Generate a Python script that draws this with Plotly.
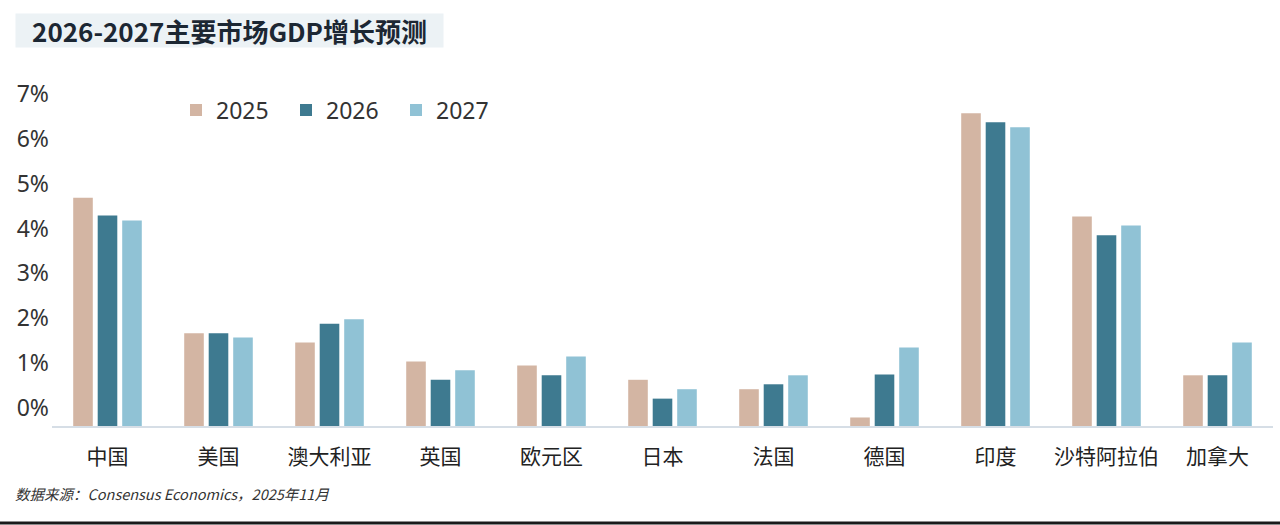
import plotly.graph_objects as go

categories = ["中国", "美国", "澳大利亚", "英国", "欧元区", "日本", "法国", "德国", "印度", "沙特阿拉伯", "加拿大"]
years = ["2025", "2026", "2027"]
g2025 = [5.09, 2.07, 1.86, 1.44, 1.35, 1.03, 0.82, 0.19, 6.97, 4.67, 1.13]
g2026 = [4.69, 2.07, 2.28, 1.03, 1.13, 0.61, 0.93, 1.15, 6.77, 4.25, 1.13]
g2027 = [4.58, 1.97, 2.38, 1.24, 1.55, 0.82, 1.13, 1.75, 6.66, 4.47, 1.86]
ytick_vals = [0, 1, 2, 3, 4, 5, 6, 7]
ytick_text = ["0%", "1%", "2%", "3%", "4%", "5%", "6%", "7%"]
title_text = "2026-2027主要市场GDP增长预测"
source_text = "数据来源：Consensus Economics，2025年11月"

colors = ["#d3b5a3", "#3e7a90", "#90c2d5"]
series = [g2025, g2026, g2027]

W, H = 1280, 525
ML, MR, MT, MB = 52, 7, 94, 99
PW, PH = W - ML - MR, H - MT - MB

def px_x(p):
    return (p - ML) / PW

def px_y(p):
    return (H - MB - p) / PH

fig = go.Figure()
for name, vals, c in zip(years, series, colors):
    fig.add_trace(go.Bar(x=categories, y=vals, name=name,
                         marker=dict(color=c, line=dict(width=0))))

fig.update_layout(
    width=W, height=H,
    margin=dict(l=ML, r=MR, t=MT, b=MB),
    paper_bgcolor="white", plot_bgcolor="white",
    barmode="group", bargap=0.338, bargroupgap=0.2,
    font=dict(family="Noto Sans, Noto Sans CJK SC", color="#333333"),
    showlegend=True,
    legend=dict(orientation="h", x=px_x(176), y=px_y(110), xanchor="left", yanchor="middle",
                font=dict(size=23, color="#333333", family="Noto Sans"),
                bgcolor="rgba(0,0,0,0)", itemclick=False,
                entrywidth=65, entrywidthmode="pixels"),
    xaxis=dict(showline=True, linecolor="#d6dee6", linewidth=2, ticks="",
               showgrid=False, zeroline=False,
               tickfont=dict(size=21, color="#222222", family="Noto Sans CJK SC"),
               ticklabelstandoff=11),
    yaxis=dict(range=[0, 7.4], showline=False, showgrid=False, zeroline=False,
               tickvals=ytick_vals, ticktext=ytick_text, ticks="",
               tickfont=dict(size=23, color="#333333", family="Noto Sans"),
               ticklabelshift=-18, ticklabelstandoff=2),
    annotations=[
        dict(text="<b>" + title_text + "</b>", xref="paper", yref="paper",
             x=px_x(15), y=px_y(13), xanchor="left", yanchor="top",
             showarrow=False, width=427, height=33, bgcolor="#ecf2f5", borderpad=0,
             align="center", valign="middle",
             font=dict(size=26, color="#1c2733", family="Noto Sans CJK SC")),
        dict(text="<i>" + source_text + "</i>", xref="paper", yref="paper",
             x=px_x(13), y=px_y(494), xanchor="left", yanchor="middle",
             showarrow=False,
             font=dict(size=14.5, color="#333333", family="Noto Sans CJK SC")),
    ],
    shapes=[
        dict(type="line", xref="paper", yref="paper",
             x0=px_x(0), x1=px_x(W), y0=px_y(523), y1=px_y(523),
             line=dict(color="#1a1a1a", width=3)),
    ],
)

fig.write_html("out.html", config={"displayModeBar": False},
               post_script="document.body.style.margin='0';")
